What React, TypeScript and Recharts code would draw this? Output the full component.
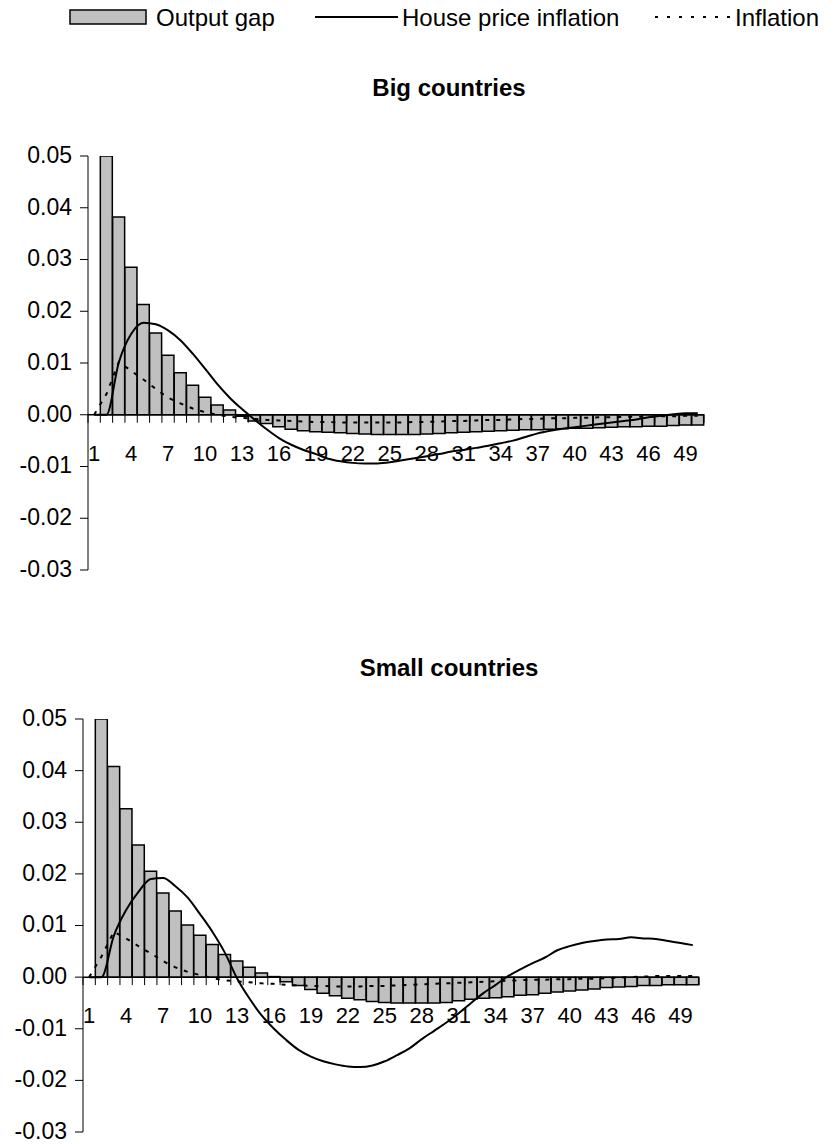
import React from "react";
import { ComposedChart, Bar, Line, XAxis, YAxis, ReferenceLine } from "recharts";

const periods = [
  "1", "2", "3", "4", "5", "6", "7", "8", "9", "10",
  "11", "12", "13", "14", "15", "16", "17", "18", "19", "20",
  "21", "22", "23", "24", "25", "26", "27", "28", "29", "30",
  "31", "32", "33", "34", "35", "36", "37", "38", "39", "40",
  "41", "42", "43", "44", "45", "46", "47", "48", "49", "50",
];

const bigOutputGap = [
  0, 0.05, 0.0382, 0.0285, 0.0213, 0.0158, 0.0115, 0.0081, 0.0057, 0.0034,
  0.0019, 0.0009, -0.0003, -0.0012, -0.0017, -0.0023, -0.0028, -0.0031, -0.0033, -0.0034,
  -0.0035, -0.0036, -0.0037, -0.0038, -0.0038, -0.0038, -0.0038, -0.0037, -0.0036, -0.0035,
  -0.0034, -0.0033, -0.0032, -0.0031, -0.003, -0.0029, -0.0029, -0.0028, -0.0027, -0.0026,
  -0.0026, -0.0025, -0.0024, -0.0023, -0.0023, -0.0022, -0.0022, -0.0021, -0.002, -0.002,
];
const bigHousePrice = [
  0, 0, 0.0101, 0.0156, 0.0178, 0.0175, 0.0163, 0.0144, 0.0118, 0.0089,
  0.0059, 0.0033, 0.0011, -0.0009, -0.0028, -0.0045, -0.0058, -0.0068, -0.0076, -0.0085,
  -0.009, -0.0093, -0.0094, -0.0094, -0.0092, -0.0088, -0.0084, -0.008, -0.0076, -0.0071,
  -0.0068, -0.0064, -0.006, -0.0055, -0.005, -0.0043, -0.0036, -0.0031, -0.0027, -0.0024,
  -0.0021, -0.0018, -0.0015, -0.0012, -0.0009, -0.0005, -0.0002, 0.0001, 0.0003, 0.0003,
];
const bigInflation = [
  0, 0.004, 0.0102, 0.0085, 0.0068, 0.005, 0.0033, 0.0022, 0.0012, 0.0005,
  0, -0.0004, -0.0006, -0.0008, -0.001, -0.0011, -0.0012, -0.0013, -0.0014, -0.0014,
  -0.0015, -0.0015, -0.0015, -0.0015, -0.0015, -0.0015, -0.0014, -0.0014, -0.0013, -0.0012,
  -0.0012, -0.0011, -0.001, -0.001, -0.0009, -0.0008, -0.0008, -0.0007, -0.0007, -0.0006,
  -0.0006, -0.0005, -0.0005, -0.0004, -0.0004, -0.0004, -0.0003, -0.0003, -0.0002, -0.0002,
];

const smallOutputGap = [
  0, 0.05, 0.0408, 0.0326, 0.0256, 0.0205, 0.0163, 0.0128, 0.0101, 0.0081,
  0.0063, 0.0044, 0.0031, 0.0019, 0.0008, 0.0001, -0.0009, -0.0016, -0.0024, -0.0031,
  -0.0036, -0.0041, -0.0044, -0.0047, -0.0049, -0.005, -0.005, -0.005, -0.005, -0.0049,
  -0.0046, -0.0043, -0.0041, -0.004, -0.0038, -0.0035, -0.0034, -0.0031, -0.0029, -0.0027,
  -0.0025, -0.0023, -0.002, -0.0019, -0.0018, -0.0016, -0.0016, -0.0015, -0.0015, -0.0015,
];
const smallHousePrice = [
  0, 0, 0.008, 0.013, 0.0165, 0.019, 0.0192, 0.0176, 0.0154, 0.0122,
  0.0088, 0.0048, -0.0002, -0.0041, -0.0074, -0.01, -0.0122, -0.0141, -0.0154, -0.0163,
  -0.0169, -0.0173, -0.0174, -0.0171, -0.0163, -0.0151, -0.0138, -0.012, -0.0104, -0.0088,
  -0.007, -0.005, -0.0031, -0.0015, 0.0002, 0.0015, 0.0027, 0.0038, 0.0052, 0.006,
  0.0066, 0.007, 0.0073, 0.0074, 0.0077, 0.0075, 0.0074, 0.007, 0.0066, 0.0062,
];
const smallInflation = [
  0, 0.004, 0.0088, 0.0075, 0.006, 0.0046, 0.0031, 0.0019, 0.001, 0.0004,
  -0.0002, -0.0006, -0.0008, -0.001, -0.0012, -0.0013, -0.0015, -0.0016, -0.0017, -0.0017,
  -0.0018, -0.0018, -0.0018, -0.0017, -0.0017, -0.0016, -0.0015, -0.0014, -0.0013, -0.0012,
  -0.0011, -0.001, -0.0009, -0.0008, -0.0007, -0.0006, -0.0005, -0.0005, -0.0004, -0.0004,
  -0.0003, -0.0003, -0.0002, -0.0001, 0, 0.0001, 0.0002, 0.0002, 0.0002, 0.0002,
];

const yTicks = [-0.03, -0.02, -0.01, 0, 0.01, 0.02, 0.03, 0.04, 0.05];
const Y_MIN = -0.03;
const Y_MAX = 0.05;

const FONT = '"Liberation Sans", Arial, Helvetica, sans-serif';
const BAR_FILL = "#c0c0c0";

const buildRows = (gap: number[], hpi: number[], inf: number[]) =>
  periods.map((p, i) => ({ period: p, gap: gap[i], hpi: hpi[i], inf: inf[i] }));

type PanelProps = {
  rows: { period: string; gap: number; hpi: number; inf: number }[];
  top: number;
  height: number;
  marginTop: number;
  marginLeft: number;
  marginRight: number;
  axisHeight: number;
};

const Panel: React.FC<PanelProps> = ({ rows, top, height, marginTop, marginLeft, marginRight, axisHeight }) => {
  const yAxisWidth = 60;
  const plotHeight = height - marginTop - axisHeight;
  const plotWidth = 840 - marginLeft - yAxisWidth - marginRight;
  const band = plotWidth / rows.length;
  // category axis sits on the zero line, not at the bottom of the plot
  const zeroY = marginTop + (plotHeight * Y_MAX) / (Y_MAX - Y_MIN);

  const renderXTick = (p: any) => {
    const left = p.x - band / 2;
    return (
      <g>
        <line x1={left} x2={left} y1={zeroY} y2={zeroY + 8} stroke="#000" strokeWidth={1} />
        {p.index === rows.length - 1 && (
          <line x1={p.x + band / 2} x2={p.x + band / 2} y1={zeroY} y2={zeroY + 8} stroke="#000" />
        )}
        {p.index % 3 === 0 && (
          <text x={p.x} y={zeroY + 46} textAnchor="middle" fontSize={22} fontFamily={FONT} fill="#000">
            {p.payload.value}
          </text>
        )}
      </g>
    );
  };

  const renderYTick = (p: any) => (
    <text x={p.x} y={p.y} dy="0.3em" textAnchor="end" fontSize={23} fontFamily={FONT} fill="#000">
      {Number(p.payload.value).toFixed(2)}
    </text>
  );

  return (
    <div style={{ position: "absolute", left: 0, top, width: 840, height }}>
      <ComposedChart
        width={840}
        height={height}
        data={rows}
        margin={{ top: marginTop, right: marginRight, bottom: 0, left: marginLeft }}
        barCategoryGap={0}
        barGap={0}
      >
        <XAxis
          dataKey="period"
          type="category"
          interval={0}
          height={axisHeight}
          axisLine={false}
          tickLine={false}
          tickSize={0}
          tickMargin={0}
          tick={renderXTick}
        />
        <YAxis
          type="number"
          domain={[Y_MIN, Y_MAX]}
          ticks={yTicks}
          interval={0}
          width={yAxisWidth}
          tickSize={8}
          tickMargin={8}
          axisLine={{ stroke: "#000", strokeWidth: 1 }}
          tickLine={{ stroke: "#000", strokeWidth: 1 }}
          tick={renderYTick}
          allowDataOverflow
        />
        <Bar dataKey="gap" fill={BAR_FILL} stroke="#000" strokeWidth={1.5} isAnimationActive={false} />
        <ReferenceLine y={0} stroke="#000" strokeWidth={1.5} />
        <Line
          dataKey="hpi"
          type="monotone"
          stroke="#000"
          strokeWidth={2}
          dot={false}
          activeDot={false}
          isAnimationActive={false}
        />
        <Line
          dataKey="inf"
          type="linear"
          stroke="#000"
          strokeWidth={2}
          strokeDasharray="4 7"
          dot={false}
          activeDot={false}
          isAnimationActive={false}
        />
      </ComposedChart>
    </div>
  );
};

const Overlay: React.FC = () => (
  <svg
    width={840}
    height={1144}
    style={{ position: "absolute", left: 0, top: 0, pointerEvents: "none" }}
    fontFamily={FONT}
  >
    {/* legend */}
    <rect x={70} y={10} width={76} height={14} fill={BAR_FILL} stroke="#000" strokeWidth={1.5} />
    <text x={156} y={26} fontSize={24} fill="#000">Output gap</text>
    <line x1={315} x2={398} y1={17} y2={17} stroke="#000" strokeWidth={2} />
    <text x={402} y={26} fontSize={24} fill="#000">House price inflation</text>
    <line x1={655} x2={730} y1={17} y2={17} stroke="#000" strokeWidth={2} strokeDasharray="3 9" />
    <text x={735} y={26} fontSize={24} fill="#000">Inflation</text>
    {/* panel titles */}
    <text x={449} y={96} fontSize={24} fontWeight="bold" textAnchor="middle" fill="#000">Big countries</text>
    <text x={449} y={676} fontSize={24} fontWeight="bold" textAnchor="middle" fill="#000">Small countries</text>
  </svg>
);

const App: React.FC = () => {
  const bigRows = buildRows(bigOutputGap, bigHousePrice, bigInflation);
  const smallRows = buildRows(smallOutputGap, smallHousePrice, smallInflation);
  return (
    <div style={{ position: "absolute", left: 0, top: 0, width: 840, height: 1144, background: "#fff" }}>
      <Panel rows={bigRows} top={0} height={600} marginTop={156} marginLeft={28} marginRight={136} axisHeight={30} />
      <Panel rows={smallRows} top={600} height={544} marginTop={119} marginLeft={23} marginRight={141} axisHeight={12} />
      <Overlay />
    </div>
  );
};

export default App;
